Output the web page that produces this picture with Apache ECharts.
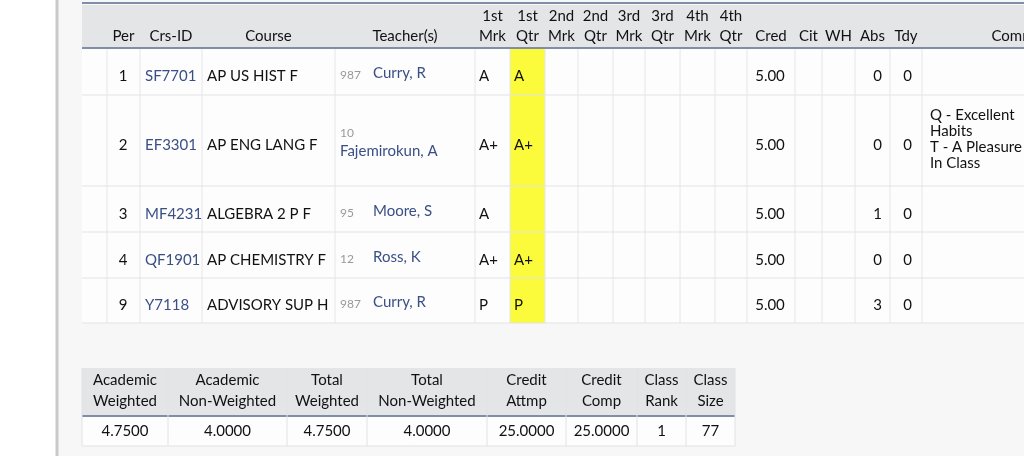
<!DOCTYPE html>
<html>
<head>
<meta charset="UTF-8">
<script src="https://cdn.jsdelivr.net/npm/echarts@6/dist/echarts.min.js"></script>
<style>body{margin:0;background:#fff}</style>
</head>
<body>
<div id="main" style="width:1024px;height:456px;"></div>
<script>
var headTop = ['', '', '', '', '', '1st', '1st', '2nd', '2nd', '3rd', '3rd', '4th', '4th', '', '', '', '', '', ''];
var headBot = ['', 'Per', 'Crs-ID', 'Course', 'Teacher(s)', 'Mrk', 'Qtr', 'Mrk', 'Qtr', 'Mrk', 'Qtr', 'Mrk', 'Qtr', 'Cred', 'Cit', 'WH', 'Abs', 'Tdy', 'Comm'];
var colEdges = [82, 107, 140, 202, 335, 475, 510, 545, 578, 613, 645, 680, 715, 747, 795, 822, 855, 890, 922, 1060];
var rowEdges = [48, 95, 186, 232, 278, 323];
var per = ['1', '2', '3', '4', '9'];
var crsId = ['SF7701', 'EF3301', 'MF4231', 'QF1901', 'Y7118'];
var course = ['AP US HIST F', 'AP ENG LANG F', 'ALGEBRA 2 P F', 'AP CHEMISTRY F', 'ADVISORY SUP H'];
var room = ['987', '10', '95', '12', '987'];
var teacher = ['Curry, R', 'Fajemirokun, A', 'Moore, S', 'Ross, K', 'Curry, R'];
var mrk1 = ['A', 'A+', 'A', 'A+', 'P'];
var qtr1 = ['A', 'A+', '', 'A+', 'P'];
var cred = ['5.00', '5.00', '5.00', '5.00', '5.00'];
var abs = ['0', '0', '1', '0', '3'];
var tdy = ['0', '0', '0', '0', '0'];
var comments = ['', 'Q - Excellent\nHabits\nT - A Pleasure\nIn Class', '', '', ''];

var sumTop = ['Academic', 'Academic', 'Total', 'Total', 'Credit', 'Credit', 'Class', 'Class'];
var sumBot = ['Weighted', 'Non-Weighted', 'Weighted', 'Non-Weighted', 'Attmp', 'Comp', 'Rank', 'Size'];
var sumVals = ['4.7500', '4.0000', '4.7500', '4.0000', '25.0000', '25.0000', '1', '77'];
var sumEdges = [82, 168, 287, 367, 487, 566, 637, 686, 735];

var F = 'Lato, "Noto Sans", sans-serif';
var g = [];
function txt(x, y, s, opt) {
  opt = opt || {};
  g.push({type: 'text', x: x, y: y, style: {text: s, font: (opt.size || 15) + 'px ' + F,
    fill: opt.fill || '#111', align: opt.align || 'center', verticalAlign: opt.va || 'middle', lineHeight: opt.lh || 16}});
}
function rect(x, y, w, h, fill, stroke) {
  g.push({type: 'rect', shape: {x: x, y: y, width: w, height: h}, style: {fill: fill || 'none', stroke: stroke || 'none', lineWidth: 1}});
}
function line(x1, y1, x2, y2, c, w) {
  g.push({type: 'line', shape: {x1: x1, y1: y1, x2: x2, y2: y2}, style: {stroke: c, lineWidth: w || 1}});
}
// panel
rect(58, 0, 966, 456, '#f7f7f7');
line(57, 0, 57, 456, '#c9c9c9', 3);
// top table
rect(82, 5, 942, 43, '#e3e5e7');
line(82, 3, 1024, 3, '#7f8fa8', 2);
rect(82, 48, 942, 275, '#fdfdfd');
rect(colEdges[6], 48, colEdges[7] - colEdges[6], 275, '#fbfb3c');
line(82, 48, 1024, 48, '#7f8fa8', 2);
for (var i = 1; i < colEdges.length - 1; i++) line(colEdges[i], 49, colEdges[i], 323, '#e6e6ea');
for (var r = 1; r < rowEdges.length; r++) line(82, rowEdges[r], 1024, rowEdges[r], '#e3e3e6');
for (var c = 0; c < headBot.length; c++) {
  var cx = (colEdges[c] + colEdges[c + 1]) / 2;
  if (c === 18) cx = 1013;
  if (c === 4) cx = 405;
  txt(cx, 16, headTop[c]);
  txt(cx, 36, headBot[c]);
}
for (var r = 0; r < per.length; r++) {
  var cy = (rowEdges[r] + rowEdges[r + 1]) / 2 + 5;
  txt(123, cy, per[r]);
  txt(145, cy, crsId[r], {align: 'left', fill: '#3a4f86'});
  txt(207, cy, course[r], {align: 'left'});
  if (r === 1) {
    txt(340, cy - 12, room[r], {align: 'left', size: 12, fill: '#999'});
    txt(340, cy + 6, teacher[r], {align: 'left', fill: '#3a4f86'});
  } else {
    txt(340, cy - 1, room[r], {align: 'left', size: 12, fill: '#999'});
    txt(373, cy - 3, teacher[r], {align: 'left', fill: '#3a4f86'});
  }
  txt(479, cy, mrk1[r], {align: 'left'});
  txt(514, cy, qtr1[r], {align: 'left'});
  txt(770, cy, cred[r]);
  txt(882, cy, abs[r], {align: 'right'});
  txt(912, cy, tdy[r], {align: 'right'});
  if (comments[r]) txt(930, cy - 6, comments[r], {align: 'left'});
}
// summary table
rect(82, 368, 653, 48, '#e3e5e7');
rect(82, 416, 653, 30, '#fdfdfd');
line(82, 416, 735, 416, '#7f8fa8', 2);
for (var i = 1; i < sumEdges.length - 1; i++) line(sumEdges[i], 368, sumEdges[i], 446, '#e2e2e6');
line(82, 368, 82, 446, '#e2e2e6');
line(735, 368, 735, 446, '#e2e2e6');
line(82, 446, 735, 446, '#e2e2e6');
for (var c = 0; c < sumTop.length; c++) {
  var cx = (sumEdges[c] + sumEdges[c + 1]) / 2;
  txt(cx, 380, sumTop[c]);
  txt(cx, 401, sumBot[c]);
  txt(cx, 431, sumVals[c]);
}

var chart = echarts.init(document.getElementById('main'));
chart.setOption({animation: false, graphic: {elements: g}});
</script>
</body>
</html>
